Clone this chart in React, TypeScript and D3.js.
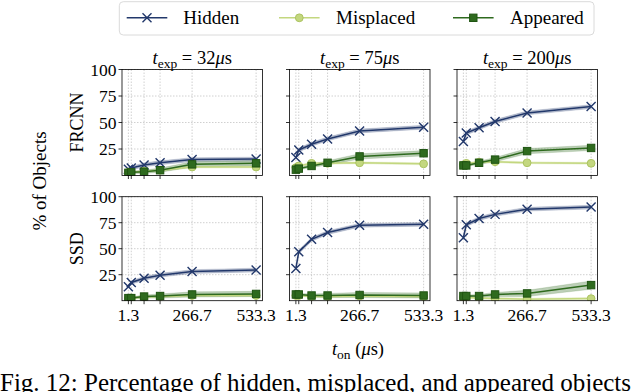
import React from "react";
import * as d3 from "d3";

// ---------- data ----------
const tOn = [1.33, 13.33, 66.67, 133.33, 266.67, 533.33];
const xTickLabelIdx = [0, 4, 5];
const xTickLabels = ["1.3", "266.7", "533.3"];
const yTicks = [25, 50, 75, 100];
const exposures = ["32", "75", "200"];
const detectors = ["FRCNN", "SSD"];
const seriesNames = ["Hidden", "Misplaced", "Appeared"];

const frcnnHidden32 = [6, 7, 10, 12, 15, 15.5];
const frcnnMisplaced32 = [3, 3, 4, 5, 8, 8];
const frcnnAppeared32 = [2.5, 3, 3.5, 5, 10.5, 11.5];
const frcnnHidden75 = [17, 24, 29.5, 34.5, 42, 45.5];
const frcnnMisplaced75 = [7.5, 9, 11.5, 11.5, 12, 11];
const frcnnAppeared75 = [5.5, 6.5, 9, 12, 18, 21];
const frcnnHidden200 = [32, 40, 45, 51, 59, 65];
const frcnnMisplaced200 = [10, 11.5, 12.5, 13, 12, 11.5];
const frcnnAppeared200 = [9.5, 9.5, 12, 15, 23, 26];
const ssdHidden32 = [13.5, 17.5, 21.5, 24.5, 28, 29.5];
const ssdMisplaced32 = [2, 2.5, 3.5, 4, 5, 5];
const ssdAppeared32 = [2.5, 2.5, 4, 4.5, 6, 6.5];
const ssdHidden75 = [31, 47, 59, 65.5, 72.5, 73.5];
const ssdMisplaced75 = [5, 5, 4, 4, 4.5, 4];
const ssdAppeared75 = [6, 6, 5, 5, 5.5, 5];
const ssdHidden200 = [60.5, 73, 79, 83, 88, 90];
const ssdMisplaced200 = [3, 3, 2.5, 2, 1.5, 2];
const ssdAppeared200 = [4.5, 4.5, 4.5, 6, 7, 15];

// half-widths of the shaded confidence bands
const spreadHidden = [1.5, 1.8, 1.8, 1.8, 1.8, 1.8];
const spreadMisplaced = [1, 1, 1, 1, 1, 1];
const spreadAppeared = [1, 1, 1.5, 2, 2.5, 2.5];
const spreadAppearedSsd200 = [1, 1, 1.5, 2, 3, 4];

const panelData = [
  [
    [frcnnHidden32, frcnnMisplaced32, frcnnAppeared32],
    [frcnnHidden75, frcnnMisplaced75, frcnnAppeared75],
    [frcnnHidden200, frcnnMisplaced200, frcnnAppeared200],
  ],
  [
    [ssdHidden32, ssdMisplaced32, ssdAppeared32],
    [ssdHidden75, ssdMisplaced75, ssdAppeared75],
    [ssdHidden200, ssdMisplaced200, ssdAppeared200],
  ],
];

// ---------- style ----------
const FONT = "Liberation Serif, Times New Roman, serif";
const FS = 17.5;
const colors = ["#22386b", "#c3d77f", "#2e6a1e"];
const markerStroke = ["#22386b", "#abc360", "#1f5412"];
const colLeft = [122, 289.5, 457];
const colWidth = 140.5;
const rowTop = [69.5, 196.7];
const rowBottom = [175.5, 300.7];

function Marker({ kind, x, y }: { kind: number; x: number; y: number }) {
  if (kind === 0) {
    const s = 4.5;
    return (
      <path
        d={`M${x - s},${y - s}L${x + s},${y + s}M${x - s},${y + s}L${x + s},${y - s}`}
        stroke={colors[0]}
        strokeWidth={1.4}
        fill="none"
      />
    );
  }
  if (kind === 1) {
    return <circle cx={x} cy={y} r={3.9} fill={colors[1]} stroke={markerStroke[1]} strokeWidth={1} />;
  }
  return <rect x={x - 3.7} y={y - 3.7} width={7.4} height={7.4} fill={colors[2]} stroke={markerStroke[2]} strokeWidth={1} />;
}

function Panel({ r, c }: { r: number; c: number }) {
  const left = colLeft[c];
  const right = left + colWidth;
  const top = rowTop[r];
  const bottom = rowBottom[r];
  const x = d3.scaleLinear().domain([tOn[0] - 26.6, tOn[5] + 26.6]).range([left, right]);
  const y = d3.scaleLinear().domain([0, 100]).range([bottom, top]);
  const series = panelData[r][c];
  const spreads = [
    spreadHidden,
    spreadMisplaced,
    r === 1 && c === 2 ? spreadAppearedSsd200 : spreadAppeared,
  ];
  const line = d3
    .line<number>()
    .x((_, i) => x(tOn[i]))
    .y((d) => y(d));
  const area = (vals: number[], sp: number[]) =>
    d3
      .area<number>()
      .x((_, i) => x(tOn[i]))
      .y0((d, i) => y(Math.max(0, d - sp[i])))
      .y1((d, i) => y(d + sp[i]))(vals) || "";
  return (
    <g>
      <defs>
        <clipPath id={`clip-${r}-${c}`}>
          <rect x={left} y={top} width={colWidth} height={bottom - top} />
        </clipPath>
      </defs>
      {tOn.map((t, i) => (
        <line key={"gx" + i} x1={x(t)} x2={x(t)} y1={top} y2={bottom} stroke="#c4c4c4" strokeWidth={0.8} strokeDasharray="1.5,1.5" />
      ))}
      {yTicks.map((v) => (
        <line key={"gy" + v} x1={left} x2={right} y1={y(v)} y2={y(v)} stroke="#c4c4c4" strokeWidth={0.8} strokeDasharray="1.5,1.5" />
      ))}
      <g clipPath={`url(#clip-${r}-${c})`}>
        {series.map((vals, k) => (
          <path key={"a" + k} d={area(vals, spreads[k])} fill={colors[k]} fillOpacity={0.32} stroke={colors[k]} strokeOpacity={0.25} strokeWidth={0.6} />
        ))}
        {series.map((vals, k) => (
          <g key={"s" + k}>
            <path d={line(vals) || ""} fill="none" stroke={colors[k]} strokeWidth={1.5} />
            {vals.map((v, i) => (
              <Marker key={i} kind={k} x={x(tOn[i])} y={y(v)} />
            ))}
          </g>
        ))}
      </g>
      <rect x={left} y={top} width={colWidth} height={bottom - top} fill="none" stroke="#000" strokeWidth={0.8} />
      {tOn.map((t, i) => (
        <line key={"tx" + i} x1={x(t)} x2={x(t)} y1={bottom} y2={bottom + 3.5} stroke="#000" strokeWidth={0.8} />
      ))}
      {yTicks.map((v) => (
        <line key={"ty" + v} x1={left - 3.5} x2={left} y1={y(v)} y2={y(v)} stroke="#000" strokeWidth={0.8} />
      ))}
      {c === 0 &&
        yTicks.map((v) => (
          <text key={"ly" + v} x={left - 5.5} y={y(v) + 6} textAnchor="end" fontSize={FS} fontFamily={FONT}>
            {v}
          </text>
        ))}
      {r === 1 &&
        xTickLabelIdx.map((idx, j) => (
          <text key={"lx" + j} x={x(tOn[idx])} y={bottom + 20.5} textAnchor="middle" fontSize={FS} fontFamily={FONT}>
            {xTickLabels[j]}
          </text>
        ))}
      {r === 0 && (
        <text x={(left + right) / 2} y={top - 5.5} textAnchor="middle" fontSize={18.5} fontFamily={FONT}>
          <tspan fontStyle="italic">t</tspan>
          <tspan fontSize={13.5} dy={4}>exp</tspan>
          <tspan dy={-4}> = {exposures[c]}</tspan>
          <tspan fontStyle="italic">μ</tspan>
          <tspan>s</tspan>
        </text>
      )}
      {c === 0 && (
        <text
          transform={`translate(83,${(top + bottom) / 2}) rotate(-90)`}
          textAnchor="middle"
          fontSize={18}
          fontFamily={FONT}
        >
          {detectors[r]}
        </text>
      )}
    </g>
  );
}

function Legend() {
  const entries = [
    { lx: 126.7, tx: 183.3 },
    { lx: 279, tx: 336 },
    { lx: 453, tx: 510 },
  ];
  const cy = 17.8;
  return (
    <g>
      <rect x={119.3} y={1.7} width={474.7} height={33.3} rx={4} fill="#fff" stroke="#d6d6d6" strokeWidth={0.9} />
      {entries.map((e, k) => (
        <g key={k}>
          <line x1={e.lx} x2={e.lx + 40.6} y1={cy} y2={cy} stroke={colors[k]} strokeWidth={1.5} />
          <Marker kind={k} x={e.lx + 20.3} y={cy} />
          <text x={e.tx} y={cy + 6.3} fontSize={19} fontFamily={FONT}>
            {seriesNames[k]}
          </text>
        </g>
      ))}
    </g>
  );
}

export default function App() {
  return (
    <svg
      width={640}
      height={392}
      viewBox="0 0 640 392"
      style={{ position: "absolute", left: 0, top: 0, background: "#fff" }}
    >
      <rect x={0} y={0} width={640} height={392} fill="#fff" />
      <Legend />
      {[0, 1].map((r) => [0, 1, 2].map((c) => <Panel key={`${r}-${c}`} r={r} c={c} />))}
      <text
        transform={`translate(46,181) rotate(-90)`}
        textAnchor="middle"
        fontSize={19}
        fontFamily={FONT}
      >
        % of Objects
      </text>
      <text x={358} y={355} textAnchor="middle" fontSize={18.5} fontFamily={FONT}>
        <tspan fontStyle="italic">t</tspan>
        <tspan fontSize={13.5} dy={4}>on</tspan>
        <tspan dy={-4}> (</tspan>
        <tspan fontStyle="italic">μ</tspan>
        <tspan>s)</tspan>
      </text>
      <text x={0} y={391} fontSize={25} fontFamily={FONT}>
        Fig. 12: Percentage of hidden, misplaced, and appeared objects
      </text>
    </svg>
  );
}
